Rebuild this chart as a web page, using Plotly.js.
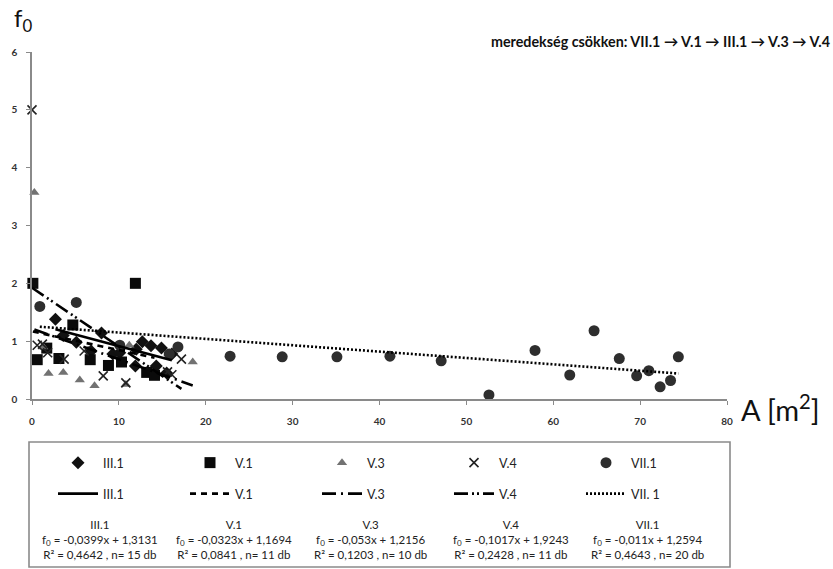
<!DOCTYPE html>
<html>
<head>
<meta charset="utf-8">
<script src="https://cdn.plot.ly/plotly-3.0.1.min.js"></script>
<style>body{margin:0;background:#fff;} #chart{width:833px;height:569px;}</style>
</head>
<body>
<div id="chart"></div>
<script>
// ---- data ----
const seriesNames = ["III.1", "V.1", "V.3", "V.4", "VII.1"];
const lineNames = ["III.1", "V.1", "V.3", "V.4", "VII. 1"];

const x_III1 = [2.7, 5.1, 6.8, 8.0, 9.3, 10.1, 11.9, 12.7, 13.7, 14.3, 14.9, 15.5, 16.1, 12.0, 3.6];
const y_III1 = [1.38, 0.98, 0.83, 1.14, 0.78, 0.80, 0.57, 0.99, 0.92, 0.57, 0.88, 0.45, 0.78, 0.86, 1.10];

const x_V1 = [0.1, 11.9, 0.6, 1.7, 3.1, 4.7, 6.7, 8.8, 10.3, 13.2, 14.1];
const y_V1 = [2.0, 2.0, 0.68, 0.88, 0.70, 1.28, 0.68, 0.58, 0.64, 0.46, 0.41];

const x_V3 = [0.27, 1.3, 1.9, 3.6, 5.5, 7.2, 10.8, 11.2, 15.7, 18.5];
const y_V3 = [3.57, 0.90, 0.44, 0.46, 0.33, 0.23, 0.25, 0.93, 0.79, 0.64];

const x_V4 = [0.0, 0.6, 1.2, 1.8, 3.7, 6.0, 8.2, 10.8, 15.6, 16.1, 17.2];
const y_V4 = [5.0, 0.93, 0.95, 0.80, 0.69, 0.83, 0.40, 0.28, 0.47, 0.42, 0.69];

const x_VII1 = [0.9, 5.1, 10.1, 15.8, 16.8, 22.8, 28.8, 35.1, 41.2, 47.1, 52.6, 57.9, 61.9, 64.7, 67.6, 69.6, 71.0, 72.3, 73.5, 74.4];
const y_VII1 = [1.60, 1.67, 0.93, 0.78, 0.90, 0.74, 0.73, 0.73, 0.74, 0.66, 0.07, 0.84, 0.415, 1.18, 0.70, 0.40, 0.49, 0.21, 0.32, 0.73];

// regression coefficients (from the legend)
const slopes = [-0.0399, -0.0323, -0.053, -0.1017, -0.011];
const intercepts = [1.3131, 1.1694, 1.2156, 1.9243, 1.2594];
const r2 = ["0,4642", "0,0841", "0,1203", "0,2428", "0,4643"];
const nCounts = [15, 11, 10, 11, 20];
const eqTexts = ["-0,0399x + 1,3131", "-0,0323x + 1,1694", "-0,053x + 1,2156", "-0,1017x + 1,9243", "-0,011x + 1,2594"];

const xTicks = [0, 10, 20, 30, 40, 50, 60, 70, 80];
const yTicks = [0, 1, 2, 3, 4, 5, 6];

// ---- styles ----
const xs = [x_III1, x_V1, x_V3, x_V4, x_VII1];
const ys = [y_III1, y_V1, y_V3, y_V4, y_VII1];
const symbols = ["diamond", "square", "triangle-up", "x-thin", "circle"];
const sizes = [10, 11, 9, 9, 11];
const colors = ["#111111", "#0a0a0a", "#727272", "#222222", "#2e2e2e"];
const dashes = ["solid", "6px,5px", "14px,5px,2px,5px", "14px,4px,2px,3px,2px,4px", "2px,2px"];

const FONT = "Lato, 'Open Sans', sans-serif";
const traces = [];
for (let i = 0; i < 5; i++) {
  const mk = {symbol: symbols[i], size: sizes[i], color: colors[i]};
  if (symbols[i] === "x-thin") mk.line = {color: colors[i], width: 1.6};
  traces.push({
    x: xs[i], y: ys[i], type: "scatter", mode: "markers", name: seriesNames[i],
    marker: mk, legend: "legend", cliponaxis: false
  });
}
for (let i = 0; i < 5; i++) {
  const xmin = Math.min(...xs[i]), xmax = Math.max(...xs[i]);
  traces.push({
    x: [xmin, xmax], y: [slopes[i] * xmin + intercepts[i], slopes[i] * xmax + intercepts[i]],
    type: "scatter", mode: "lines", name: lineNames[i],
    line: {color: "#000", width: 2.6, dash: dashes[i]}, legend: "legend2"
  });
}

// plot area pixel geometry
const L = 32, R = 727, T = 52, B = 399;
const W = R - L, H = B - T;
const px = v => (v - L) / W;
const py = v => (B - v) / H;

const eqCenters = [100, 234, 370, 511, 647];
const annotations = [];
for (let i = 0; i < 5; i++) {
  annotations.push({
    xref: "paper", yref: "paper", x: px(eqCenters[i]), y: py(516), xanchor: "center", yanchor: "top",
    showarrow: false, align: "center",
    text: seriesNames[i] + "<br>f<sub>0</sub> = " + eqTexts[i] + "<br>R² = " + r2[i] + " , n= " + nCounts[i] + " db",
    font: {family: FONT, size: 11.5, color: "#222"}
  });
}
annotations.push({
  xref: "paper", yref: "paper", x: px(12), y: py(38), xanchor: "left", yanchor: "bottom", showarrow: false,
  text: "f<sub>0</sub>", font: {family: FONT, size: 24, color: "#111"}
});
annotations.push({
  xref: "paper", yref: "paper", x: px(739), y: py(408), xanchor: "left", yanchor: "middle", showarrow: false,
  text: "A [m<sup>2</sup>]", font: {family: FONT, size: 29, color: "#111"}
});
annotations.push({
  xref: "paper", yref: "paper", x: px(832), y: py(42), xanchor: "right", yanchor: "middle", showarrow: false,
  text: "<b>meredekség csökken: VII.1 → V.1 → III.1 → V.3 → V.4</b>", font: {family: FONT, size: 14.3, color: "#111"}
});

const tickFont = {family: FONT, size: 10, color: "#333", weight: "bold"};
const legendCommon = {
  orientation: "h", xanchor: "left", yanchor: "top", itemwidth: 40,
  entrywidth: 77, entrywidthmode: "pixels", bgcolor: "rgba(0,0,0,0)",
  font: {family: FONT, size: 12.5, color: "#222"}, itemclick: false, itemdoubleclick: false
};

const layout = {
  width: 833, height: 569,
  margin: {l: L, r: 833 - R, t: T, b: 569 - B, pad: 0},
  paper_bgcolor: "#fff", plot_bgcolor: "#fff",
  font: {family: FONT, color: "#222"},
  showlegend: true,
  xaxis: {
    range: [0, 80], tickvals: xTicks, ticktext: xTicks.map(String),
    showgrid: false, zeroline: false, showline: true, linecolor: "#8a8a8a", linewidth: 1.6,
    ticks: "outside", ticklen: 4, tickcolor: "#8a8a8a", tickfont: tickFont, ticklabelstandoff: 8,
    fixedrange: true
  },
  yaxis: {
    range: [0, 6], tickvals: yTicks, ticktext: yTicks.map(String),
    showgrid: false, zeroline: false, showline: true, linecolor: "#8a8a8a", linewidth: 1.6,
    ticks: "outside", ticklen: 4, tickcolor: "#8a8a8a", tickfont: tickFont, ticklabelstandoff: 7,
    fixedrange: true
  },
  legend: Object.assign({}, legendCommon, {x: px(53), y: py(448)}),
  legend2: Object.assign({}, legendCommon, {x: px(53), y: py(479)}),
  shapes: [{
    type: "rect", xref: "paper", yref: "paper",
    x0: px(29), x1: px(730), y0: py(442), y1: py(567),
    line: {color: "#8a8a8a", width: 1.6}, fillcolor: "rgba(0,0,0,0)"
  }],
  annotations: annotations
};

Plotly.newPlot("chart", traces, layout, {displayModeBar: false, staticPlot: true});
</script>
</body>
</html>
